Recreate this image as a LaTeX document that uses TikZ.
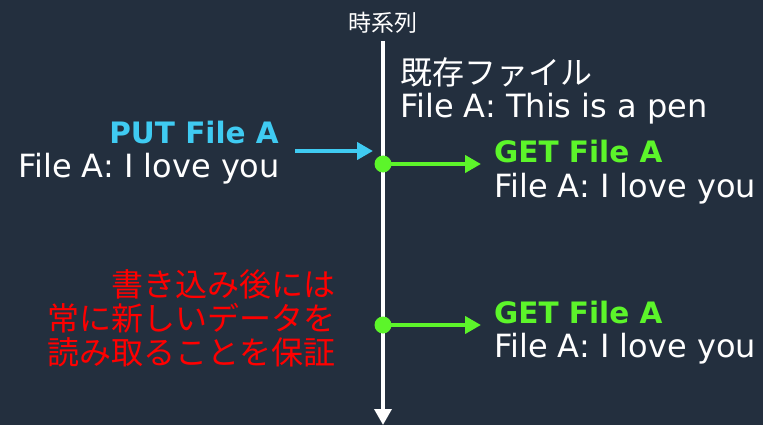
\documentclass[tikz,border=0pt]{standalone}
\usepackage{fontspec}
\setmainfont{DejaVu Sans}
\newfontfamily\jp{Noto Sans CJK JP}
\usetikzlibrary{arrows.meta}
\definecolor{bg}{HTML}{232F3E}
\definecolor{putc}{HTML}{3FCBF2}
\definecolor{getc}{HTML}{5CF52A}
\definecolor{redc}{HTML}{FF0000}
\tikzset{
  txt/.style={inner sep=0pt, text=white, font=\fontsize{32}{34}\selectfont},
  boldtxt/.style={inner sep=0pt, font=\fontsize{29.5}{32}\selectfont\bfseries},
  jptxt/.style={inner sep=0pt, font=\fontsize{32}{34}\selectfont\jp},
  dot/.style={circle, fill=getc, inner sep=0pt, minimum size=17pt},
  putarrow/.style={draw=putc, line width=4pt, -{Triangle[length=16pt,width=17pt]}},
  getarrow/.style={draw=getc, line width=4pt, -{Triangle[length=16pt,width=17pt]}},
  timeline/.style={draw=white, line width=3.5pt, -{Triangle[length=16pt,width=17pt]}}
}
\begin{document}
\begin{tikzpicture}[x=1pt,y=-1pt]
\fill[bg] (0,0) rectangle (763,425);
\useasboundingbox (0,0) rectangle (763,425);

% timeline
\node[inner sep=0pt, text=white, font=\fontsize{23}{25}\selectfont\jp, anchor=base] (tl) at (383,32) {時系列};
\coordinate (tltop) at (383,41);
\coordinate (tlbot) at (383,425);
\draw[timeline] (tltop) -- (tlbot);

% existing file
\node[jptxt, text=white, anchor=base west] (exist) at (400,85) {既存ファイル};
\node[txt, anchor=base west] (existA) at (400,118) {File A: This is a pen};

% PUT
\node[boldtxt, text=putc, anchor=base east] (put) at (279,144) {PUT File A};
\node[txt, anchor=base east] (putA) at (280,178) {File A: I love you};
\coordinate (putstart) at (295,151);
\coordinate (putend) at (373,151);
\draw[putarrow] (putstart) -- (putend);

% first GET
\node[dot] (d1) at (383,164) {};
\coordinate (g1end) at (481,164);
\draw[getarrow] (d1.center) -- (g1end);
\node[boldtxt, text=getc, anchor=base west] (get1) at (494,163) {GET File A};
\node[txt, anchor=base west] (get1A) at (494,197) {File A: I love you};

% second GET
\node[dot] (d2) at (383,325) {};
\coordinate (g2end) at (481,325);
\draw[getarrow] (d2.center) -- (g2end);
\node[boldtxt, text=getc, anchor=base west] (get2) at (494,323) {GET File A};
\node[txt, anchor=base west] (get2A) at (494,357) {File A: I love you};

% red note
\node[jptxt, text=redc, anchor=base east] (r1) at (336,296) {書き込み後には};
\node[jptxt, text=redc, anchor=base east] (r2) at (336,330) {常に新しいデータを};
\node[jptxt, text=redc, anchor=base east] (r3) at (336,364) {読み取ることを保証};
\end{tikzpicture}
\end{document}
